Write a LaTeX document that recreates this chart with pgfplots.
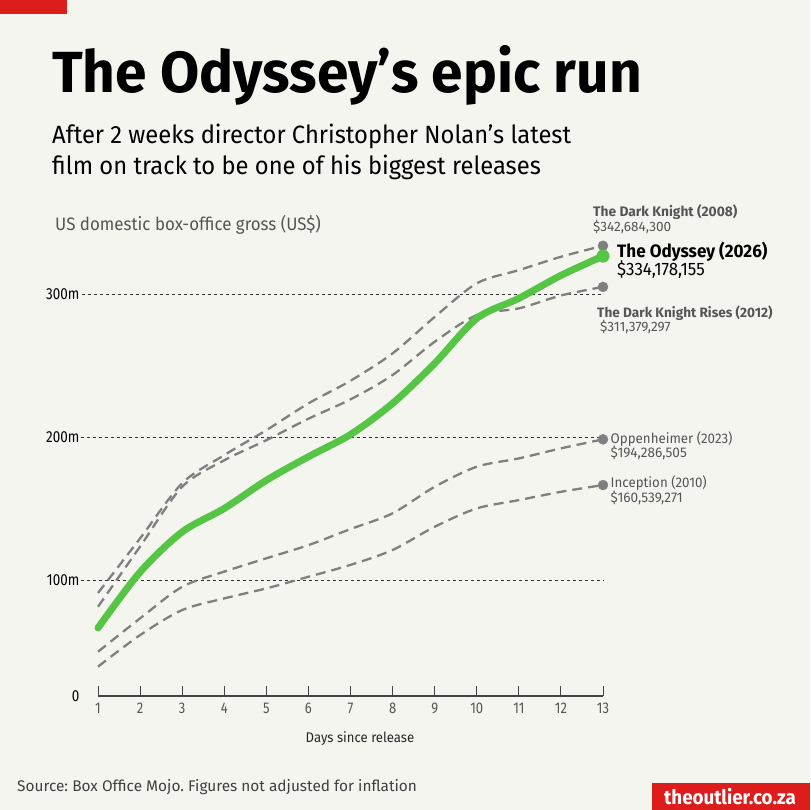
\documentclass[border=0pt]{standalone}
\usepackage{fontspec}
\setmainfont{Fira Sans}
\newfontfamily\fc{Fira Sans}[FakeStretch=0.84]
\newcommand{\ff}[1]{\fontspec{Fira Sans}[FakeStretch=#1]}
\usepackage{pgfplots}
\pgfplotsset{compat=1.18}
\frenchspacing
\definecolor{bg}{HTML}{F5F5F0}
\definecolor{brand}{HTML}{DD1C1C}
\definecolor{lgreen}{HTML}{56C545}
\definecolor{dgray}{HTML}{7F7F7F}
\definecolor{tgray}{HTML}{555555}
\definecolor{axgray}{HTML}{444444}
\pgfplotstableread{
x tdk tdkr ody opp inc
1 91.4 81.8 67 50.4 40
2 129.5 123.8 106 73.7 62
3 168 165.5 134 95.7 79.5
4 187.6 184 150.4 106.3 87.6
5 205 198 170 115.6 94.6
6 223.7 213 186.5 124.8 102.7
7 239.5 226.5 202 136 111
8 258.6 243.5 223.7 147 121.4
9 284 266.7 251.6 165.5 137.6
10 307.5 285.3 283 179.5 150.4
11 316.7 290 297 185.3 156.2
12 326 299 313 192.3 162
13 333.7 305 326.5 198.6 166.7
}\data
\begin{document}
\frenchspacing
\begin{tikzpicture}
\fill[bg] (0,0) rectangle (810pt,-810pt);
\useasboundingbox (0,0) rectangle (810pt,-810pt);
\fill[brand] (0,0) rectangle (67pt,-14pt);
\fill[brand] (652pt,-783pt) rectangle (810pt,-810pt);
\node[anchor=base west, inner sep=0] at (52pt,-93pt) {\ff{0.98}\bfseries\fontsize{58pt}{60pt}\selectfont The Odyssey’s epic run};
\node[anchor=base west, inner sep=0] at (52pt,-144pt) {\ff{0.95}\fontsize{25pt}{26pt}\selectfont After 2 weeks director Christopher Nolan’s latest};
\node[anchor=base west, inner sep=0] at (52pt,-175pt) {\ff{0.95}\fontsize{25pt}{26pt}\selectfont film on track to be one of his biggest releases};
\node[anchor=base west, inner sep=0, text=tgray] at (55pt,-230pt) {\ff{0.94}\fontsize{18pt}{19pt}\selectfont US domestic box-office gross (US\$)};
\node[anchor=base, inner sep=0, text=black!85] at (360pt,-742pt) {\ff{0.94}\fontsize{14pt}{15pt}\selectfont Days since release};
\node[anchor=base west, inner sep=0, text=black!75] at (17pt,-791pt) {\ff{1.0}\frenchspacing\fontsize{15.4pt}{16pt}\selectfont Source: Box Office Mojo. Figures not adjusted for inflation};
\node[anchor=center, inner sep=0, text=white] at (730pt,-797pt) {\ff{0.94}\bfseries\fontsize{20pt}{21pt}\selectfont theoutlier.co.za};
\begin{axis}[at={(98pt,-696pt)}, anchor=south west, scale only axis,
  width=505pt, height=473.6pt, xmin=1, xmax=13, ymin=19.5, ymax=350, clip=false,
  axis x line*=bottom, axis y line*=left,
  x axis line style={-, draw=axgray, line width=2pt},
  y axis line style={draw=none},
  xtick={1,2,3,4,5,6,7,8,9,10,11,12,13},
  xticklabels={1,2,3,4,5,6,7,8,9,10,11,12,13},
  ytick={19.5,100,200,300}, yticklabels={0,100m,200m,300m},
  tick align=inside, major tick length=10pt,
  xtick style={draw=axgray, line width=1pt},
  ytick style={draw=none},
  xticklabel style={font=\fc\fontsize{15.5pt}{15.5pt}\selectfont, text=tgray, anchor=north, inner sep=0pt, yshift=-7pt},
  yticklabel style={font=\fc\fontsize{16pt}{16pt}\selectfont, text=black, anchor=east, inner sep=0pt, xshift=-18.5pt},
]
\addplot[black!80, line width=0.8pt, dash pattern=on 3pt off 3pt] coordinates {(0.63,300) (13,300)};
\addplot[black!80, line width=0.8pt, dash pattern=on 3pt off 3pt] coordinates {(0.59,200) (13,200)};
\addplot[black!80, line width=0.8pt, dash pattern=on 3pt off 3pt] coordinates {(0.59,100) (13,100)};
\pgfplotsset{gl/.style={dgray, line width=2.3pt, dash pattern=on 10pt off 6pt, smooth, tension=0.5}}
\addplot[gl] table[x=x,y=tdk]{\data};
\addplot[gl] table[x=x,y=tdkr]{\data};
\addplot[gl] table[x=x,y=opp]{\data};
\addplot[gl] table[x=x,y=inc]{\data};
\addplot[lgreen, line width=7pt, line cap=round, smooth, tension=0.5] table[x=x,y=ody]{\data};
\addplot[only marks, mark=*, mark size=5pt, color=dgray] coordinates {(13,333.7) (13,305) (13,198.6) (13,166.7)};
\addplot[only marks, mark=*, mark size=6.3pt, color=lgreen] coordinates {(13,326.5)};
\end{axis}
\node[anchor=base west, inner sep=0, text=tgray] at (593pt,-216pt) {\ff{1.0}\bfseries\fontsize{13.8pt}{14pt}\selectfont The Dark Knight (2008)};
\node[anchor=base west, inner sep=0, text=tgray] at (593pt,-231.5pt) {\ff{1.0}\fontsize{13.6pt}{14pt}\selectfont \$342,684,300};
\node[anchor=base west, inner sep=0, text=black] at (617pt,-257pt) {\ff{0.95}\bfseries\fontsize{18pt}{19pt}\selectfont The Odyssey (2026)};
\node[anchor=base west, inner sep=0, text=black] at (617pt,-275pt) {\ff{0.94}\fontsize{18pt}{19pt}\selectfont \$334,178,155};
\node[anchor=base west, inner sep=0, text=tgray] at (597pt,-317pt) {\ff{1.0}\bfseries\fontsize{13.6pt}{14pt}\selectfont The Dark Knight Rises (2012)};
\node[anchor=base west, inner sep=0, text=tgray] at (600pt,-331pt) {\ff{1.0}\fontsize{13.6pt}{14pt}\selectfont \$311,379,297};
\node[anchor=base west, inner sep=0, text=tgray] at (610.5pt,-443pt) {\ff{0.95}\fontsize{14pt}{15pt}\selectfont Oppenheimer (2023)};
\node[anchor=base west, inner sep=0, text=tgray] at (610.5pt,-457pt) {\ff{0.97}\fontsize{14pt}{15pt}\selectfont \$194,286,505};
\node[anchor=base west, inner sep=0, text=tgray] at (610.5pt,-487pt) {\ff{0.95}\fontsize{14pt}{15pt}\selectfont Inception (2010)};
\node[anchor=base west, inner sep=0, text=tgray] at (610.5pt,-502pt) {\ff{0.97}\fontsize{14pt}{15pt}\selectfont \$160,539,271};
\end{tikzpicture}
\end{document}
